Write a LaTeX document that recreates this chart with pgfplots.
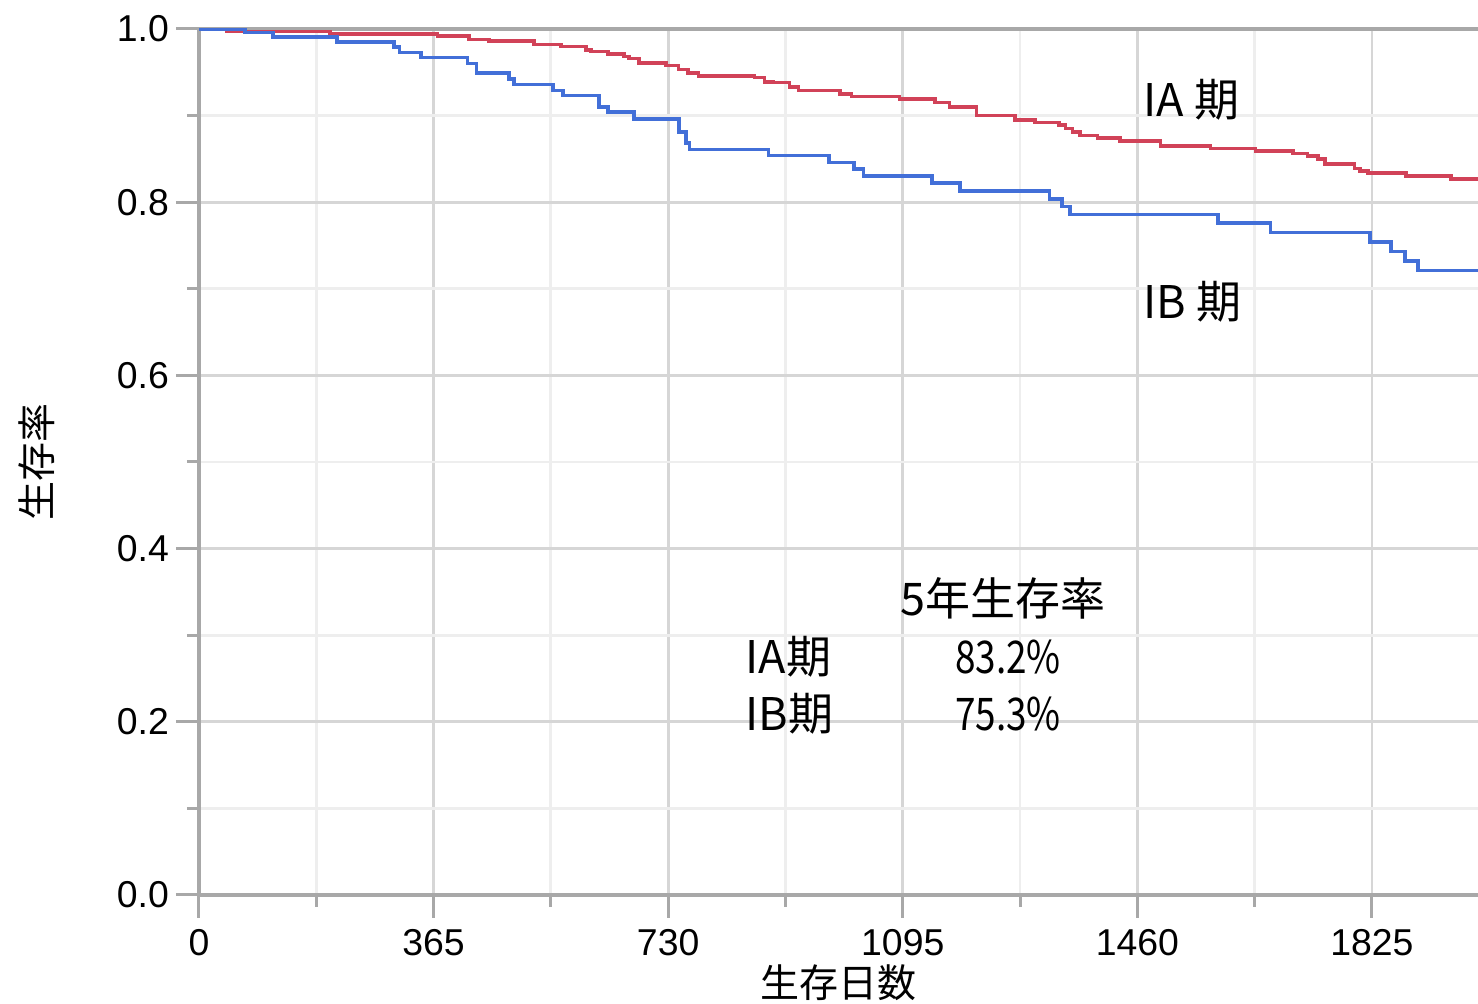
\documentclass[border=0pt]{standalone}
\usepackage{pgfplots}
\usepackage{pgfplotstable}
\pgfplotsset{compat=1.18}
\usepackage{fontspec}
\setmainfont{Liberation Sans}
\newfontfamily\jp{Noto Sans CJK JP}

\definecolor{iacol}{RGB}{209,66,88}
\definecolor{ibcol}{RGB}{66,111,216}
\definecolor{axgray}{RGB}{168,168,168}
\definecolor{gridmaj}{RGB}{214,214,214}
\definecolor{gridmin}{RGB}{238,238,238}

% survival curves, day vs. survival rate
\pgfplotstableread{
day  surv
0    1.000
44   0.997
204  0.994
371  0.992
420  0.988
451  0.986
521  0.982
563  0.980
602  0.976
610  0.974
636  0.971
661  0.968
669  0.966
685  0.961
727  0.958
746  0.953
761  0.949
777  0.946
864  0.944
880  0.939
894  0.938
919  0.933
933  0.929
997  0.925
1015 0.922
1090 0.919
1145 0.915
1168 0.910
1210 0.900
1270 0.895
1301 0.892
1338 0.889
1348 0.885
1359 0.881
1371 0.877
1398 0.874
1433 0.871
1496 0.865
1574 0.862
1644 0.859
1702 0.856
1725 0.853
1741 0.850
1752 0.844
1798 0.839
1806 0.836
1819 0.834
1878 0.830
1948 0.827
1990 0.827
}\ia

\pgfplotstableread{
day  surv
0    1.000
72   0.996
115  0.991
215  0.985
303  0.979
312  0.973
345  0.967
418  0.960
432  0.949
482  0.942
490  0.936
551  0.929
566  0.923
622  0.910
636  0.904
677  0.896
747  0.881
758  0.868
763  0.861
886  0.854
980  0.846
1019 0.838
1034 0.830
1140 0.822
1184 0.813
1323 0.804
1343 0.795
1355 0.786
1585 0.776
1667 0.765
1822 0.754
1855 0.743
1876 0.732
1897 0.721
1990 0.721
}\ib

\begin{document}
\begin{tikzpicture}
\begin{axis}[
  scale only axis,
  width=639.5pt, height=433pt,
  xmin=0, xmax=1990, ymin=0, ymax=1,
  axis x line*=box, axis y line*=left,
  axis line style={-, axgray, line width=1.6pt},
  tick pos=left, tick align=outside,
  major tick length=11.5pt, minor tick length=6pt,
  tick style={axgray, line width=1.5pt},
  xtick={0,365,730,1095,1460,1825},
  ytick={0,0.2,0.4,0.6,0.8,1},
  minor tick num=1,
  grid=both,
  major grid style={gridmaj, line width=1.4pt},
  minor grid style={gridmin, line width=1.4pt},
  /pgf/number format/assume math mode=true,
  ticklabel style={font=\fontsize{18.7}{22}\selectfont},
  xticklabel style={yshift=-2pt, /pgf/number format/1000 sep={}},
  yticklabel style={/pgf/number format/.cd, fixed, fixed zerofill, precision=1},
  xlabel={\jp\fontsize{19.5}{23}\selectfont 生存日数},
  ylabel={\jp\fontsize{19.5}{23}\selectfont 生存率},
  every axis x label/.style={at={(axis description cs:0.5,-0.1016)}, anchor=center},
  every axis y label/.style={at={(axis description cs:-0.1267,0.5)}, anchor=center, rotate=90},
]
\addplot[const plot, iacol, line width=1.8pt] table[x=day, y=surv] {\ia};
\addplot[const plot, ibcol, line width=1.8pt] table[x=day, y=surv] {\ib};

\coordinate (sw) at (rel axis cs:0,0);
\coordinate (ne) at (rel axis cs:1,1);

\tikzset{ann/.style={anchor=west, inner sep=0pt, font=\jp\fontsize{22.5}{27}\selectfont}}
\node[ann] at (axis cs:1469,0.918) {IA 期};
\node[ann] at (axis cs:1469,0.685) {IB 期};
\node[ann] at (axis cs:1091,0.343) {5年生存率};
\node[ann] at (axis cs:850,0.275) {IA期};
\node[ann, xscale=0.82] at (axis cs:1176,0.275) {83.2\%};
\node[ann] at (axis cs:850,0.209) {IB期};
\node[ann, xscale=0.82] at (axis cs:1176,0.209) {75.3\%};
\end{axis}
\pgfresetboundingbox
\path ([xshift=-99.5pt,yshift=-54.5pt]sw) rectangle ([yshift=14.5pt]ne);
\end{tikzpicture}
\end{document}
